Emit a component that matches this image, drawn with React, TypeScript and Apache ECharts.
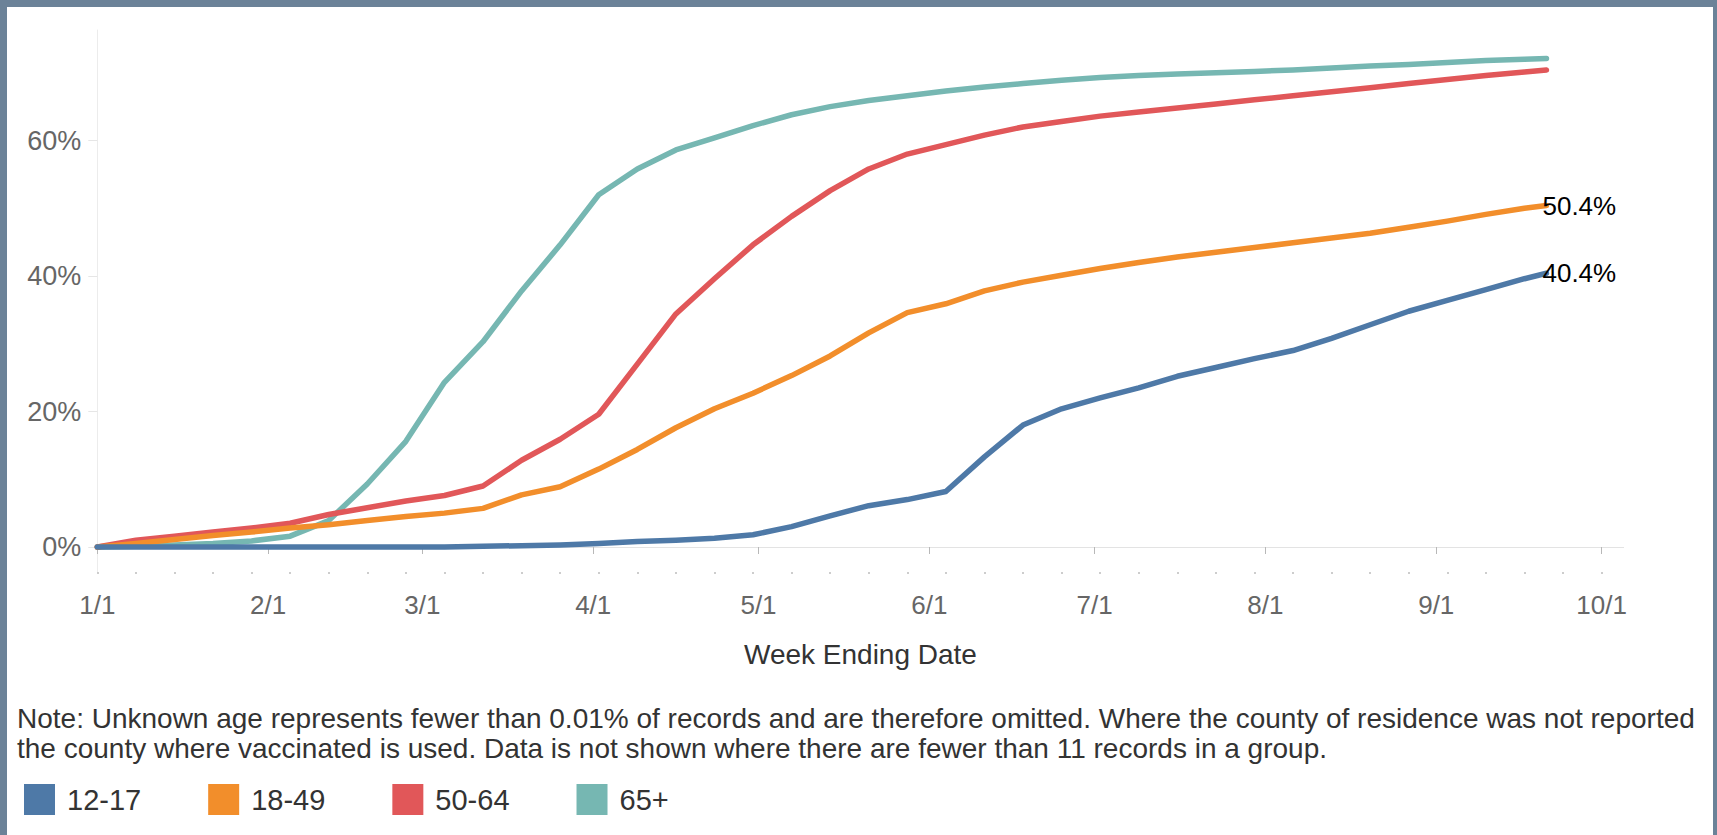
import React, { useEffect, useRef } from "react";
import * as echarts from "echarts";

const weekEnding = [
  "2021-01-01", "2021-01-08", "2021-01-15", "2021-01-22", "2021-01-29",
  "2021-02-05", "2021-02-12", "2021-02-19", "2021-02-26",
  "2021-03-05", "2021-03-12", "2021-03-19", "2021-03-26",
  "2021-04-02", "2021-04-09", "2021-04-16", "2021-04-23", "2021-04-30",
  "2021-05-07", "2021-05-14", "2021-05-21", "2021-05-28",
  "2021-06-04", "2021-06-11", "2021-06-18", "2021-06-25",
  "2021-07-02", "2021-07-09", "2021-07-16", "2021-07-23", "2021-07-30",
  "2021-08-06", "2021-08-13", "2021-08-20", "2021-08-27",
  "2021-09-03", "2021-09-10", "2021-09-17", "2021-09-21",
];

const age12to17 = [
  0, 0, 0, 0, 0, 0, 0, 0, 0, 0,
  0.1, 0.2, 0.3, 0.5, 0.8, 1.0, 1.3, 1.8, 3.0, 4.6,
  6.1, 7.0, 8.2, 13.3, 18.0, 20.4, 22.0, 23.5, 25.2, 26.5,
  27.8, 29.0, 30.8, 32.8, 34.8, 36.4, 38.0, 39.6, 40.4,
];

const age18to49 = [
  0, 0.5, 1.1, 1.7, 2.2, 2.8, 3.3, 3.9, 4.5, 5.0,
  5.7, 7.7, 8.9, 11.5, 14.4, 17.6, 20.4, 22.7, 25.3, 28.2,
  31.6, 34.6, 35.9, 37.8, 39.1, 40.1, 41.1, 42.0, 42.8, 43.5,
  44.2, 44.9, 45.6, 46.3, 47.2, 48.1, 49.1, 50.0, 50.4,
];

const age50to64 = [
  0, 1.0, 1.6, 2.2, 2.8, 3.5, 4.8, 5.8, 6.8, 7.6,
  9.0, 12.8, 15.9, 19.6, 27.0, 34.4, 39.6, 44.6, 48.8, 52.6,
  55.8, 58.0, 59.4, 60.8, 62.0, 62.8, 63.6, 64.2, 64.8, 65.4,
  66.0, 66.6, 67.2, 67.8, 68.4, 69.0, 69.6, 70.1, 70.4,
];

const age65plus = [
  0, 0.1, 0.3, 0.5, 0.9, 1.6, 3.9, 9.3, 15.6, 24.3,
  30.3, 37.8, 44.6, 52.0, 55.8, 58.6, 60.4, 62.2, 63.8, 65.0,
  65.9, 66.6, 67.3, 67.9, 68.4, 68.9, 69.3, 69.6, 69.8, 70.0,
  70.2, 70.4, 70.7, 71.0, 71.2, 71.5, 71.8, 72.0, 72.1,
];

const groupNames = ["12-17", "18-49", "50-64", "65+"];
const groupColors = ["#4e79a7", "#f28e2b", "#e15759", "#76b7b2"];
const labelledGroups = ["12-17", "18-49"];

const monthTicks = [
  "2021-01-01", "2021-02-01", "2021-03-01", "2021-04-01", "2021-05-01",
  "2021-06-01", "2021-07-01", "2021-08-01", "2021-09-01", "2021-10-01",
];
const yTicks = [0, 20, 40, 60];
const xStart = "2021-01-01";
const xEnd = "2021-10-05";
const yMin = -3.69;
const yMax = 76.31;

const axisTitle = "Week Ending Date";
const noteLines = [
  "Note: Unknown age represents fewer than 0.01% of records and are therefore omitted. Where the county of residence was not reported",
  "the county where vaccinated is used. Data is not shown where there are fewer than 11 records in a group.",
];

const FONT = '"Liberation Sans", Arial, sans-serif';
const DAY = 86400000;

function toUtc(s: string): number {
  const [y, m, d] = s.split("-").map(Number);
  return Date.UTC(y, m - 1, d);
}
// day offset from the axis start date
function toDay(s: string): number {
  return Math.round((toUtc(s) - toUtc(xStart)) / DAY);
}
function dayLabel(day: number): string {
  const d = new Date(toUtc(xStart) + Math.round(day) * DAY);
  return `${d.getUTCMonth() + 1}/${d.getUTCDate()}`;
}

export default function App() {
  const ref = useRef<HTMLDivElement>(null);

  useEffect(() => {
    if (!ref.current) return;
    const chart = echarts.init(ref.current, undefined, { renderer: "svg" });

    const valuesByGroup: Record<string, number[]> = {
      "12-17": age12to17,
      "18-49": age18to49,
      "50-64": age50to64,
      "65+": age65plus,
    };

    const minDay = 0;
    const maxDay = toDay(xEnd);
    const monthDays = monthTicks.map(toDay);
    const weekTicks: number[] = [];
    for (let t = minDay; t <= maxDay; t += 7) weekTicks.push(t);

    // draw 65+ first so 12-17 ends on top
    const drawOrder = [...groupNames].reverse();
    const series = drawOrder.map((name) => {
      const idx = groupNames.indexOf(name);
      const vals = valuesByGroup[name];
      const labelled = labelledGroups.includes(name);
      return {
        name,
        type: "line",
        xAxisIndex: 0,
        yAxisIndex: 0,
        showSymbol: false,
        symbol: "none",
        color: groupColors[idx],
        lineStyle: { width: 5.5, color: groupColors[idx], join: "round", cap: "round" },
        data: weekEnding.map((d, i) => [toDay(d), vals[i]]),
        endLabel: labelled
          ? {
              show: true,
              formatter: (p: any) => `${Number(p.value[1]).toFixed(1)}%`,
              color: "#000",
              fontSize: 26,
              fontFamily: FONT,
              distance: 0,
              offset: [-4, 0],
            }
          : { show: false },
        emphasis: { disabled: true },
      };
    });

    const option: any = {
      animation: false,
      backgroundColor: "transparent",
      textStyle: { fontFamily: FONT },
      grid: { left: 97.3, top: 30, width: 1526.3, height: 542, containLabel: false },
      legend: {
        data: groupNames,
        left: 24,
        top: 784,
        padding: 0,
        orient: "horizontal",
        icon: "rect",
        itemWidth: 31,
        itemHeight: 31,
        itemGap: 67,
        itemStyle: { borderWidth: 0 },
        selectedMode: false,
        textStyle: {
          fontSize: 29,
          color: "#333",
          fontFamily: FONT,
          padding: [0, 0, 0, 7],
        },
      },
      xAxis: [
        {
          type: "value",
          position: "bottom",
          min: minDay,
          max: maxDay,
          axisLine: { show: true, lineStyle: { color: "#e3e3e3", width: 1 } },
          axisTick: {
            show: true,
            customValues: monthDays,
            length: 7,
            lineStyle: { color: "#b8b8b8", width: 1 },
          },
          axisLabel: {
            customValues: monthDays,
            formatter: (v: number) => dayLabel(v),
            color: "#666",
            fontSize: 26,
            fontFamily: FONT,
            margin: 20,
            showMinLabel: true,
            showMaxLabel: true,
          },
          splitLine: { show: false },
          name: axisTitle,
          nameLocation: "middle",
          nameGap: 68,
          nameTextStyle: { fontSize: 28, color: "#333", fontFamily: FONT },
        },
        {
          type: "value",
          position: "bottom",
          min: minDay,
          max: maxDay,
          axisLine: { show: false },
          axisTick: {
            show: true,
            customValues: weekTicks,
            length: 2,
            lineStyle: { color: "#bdbdbd", width: 1.5 },
          },
          axisLabel: { show: false },
          splitLine: { show: false },
        },
      ],
      yAxis: {
        type: "value",
        min: yMin,
        max: yMax,
        axisLine: { show: true, lineStyle: { color: "#ececec", width: 1 } },
        axisTick: {
          show: true,
          customValues: yTicks,
          length: 9,
          lineStyle: { color: "#e6e6e6", width: 1 },
        },
        axisLabel: {
          customValues: yTicks,
          formatter: (v: number) => `${v}%`,
          color: "#666",
          fontSize: 27,
          fontFamily: FONT,
          margin: 16,
        },
        splitLine: { show: false },
      },
      graphic: [
        {
          type: "text",
          left: 17,
          top: 703,
          style: {
            text: noteLines.join("\n"),
            fontSize: 28,
            lineHeight: 30,
            fill: "#333",
            fontFamily: FONT,
          },
        },
      ],
      series,
    };

    chart.setOption(option);
    return () => chart.dispose();
  }, []);

  return (
    <div
      style={{
        position: "fixed",
        left: 0,
        top: 0,
        width: 1717,
        height: 835,
        background: "#6b8298",
        overflow: "hidden",
      }}
    >
      <div
        style={{
          position: "absolute",
          left: 7,
          top: 7,
          width: 1706,
          height: 828,
          background: "#ffffff",
        }}
      />
      <div ref={ref} style={{ position: "absolute", left: 0, top: 0, width: 1717, height: 835 }} />
    </div>
  );
}
